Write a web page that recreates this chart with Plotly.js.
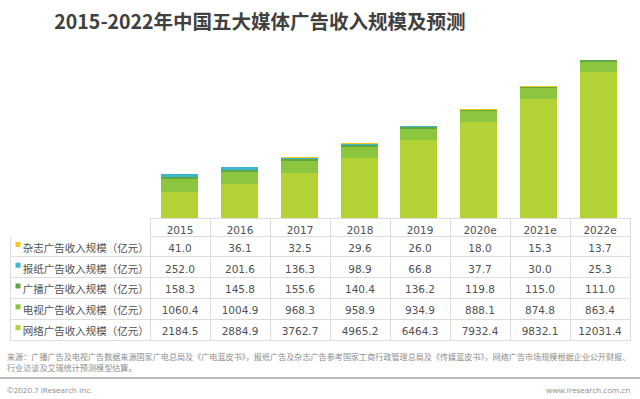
<!DOCTYPE html>
<html>
<head>
<meta charset="utf-8">
<script src="https://cdn.plot.ly/plotly-3.0.1.min.js"></script>
<style>html,body{margin:0;padding:0;background:#fff;}#chart{width:640px;height:399px;}</style>
</head>
<body>
<div id="chart"></div>
<script>
const years = ['2015','2016','2017','2018','2019','2020e','2021e','2022e'];
const magazine = [41.0,36.1,32.5,29.6,26.0,18.0,15.3,13.7];
const newspaper = [252.0,201.6,136.3,98.9,66.8,37.7,30.0,25.3];
const broadcast = [158.3,145.8,155.6,140.4,136.2,119.8,115.0,111.0];
const tv = [1060.4,1004.9,968.3,958.9,934.9,888.1,874.8,863.4];
const online = [2184.5,2884.9,3762.7,4965.2,6464.3,7932.4,9832.1,12031.4];
const seriesNames = ['杂志广告收入规模（亿元）','报纸广告收入规模（亿元）','广播广告收入规模（亿元）','电视广告收入规模（亿元）','网络广告收入规模（亿元）'];
const colors = ['#f5c518','#3bb8cc','#5fa845','#8cc63f','#b2d235'];
const title = '2015-2022年中国五大媒体广告收入规模及预测';
const sourceLine1 = '来源：广播广告及电视广告数据来源国家广电总局及《广电蓝皮书》，报纸广告及杂志广告参考国家工商行政管理总局及《传媒蓝皮书》，网络广告市场规模根据企业公开财报、';
const sourceLine2 = '行业访谈及艾瑞统计预测模型估算。';

const rows = [magazine, newspaper, broadcast, tv, online];
const stackOrder = [4,3,2,1,0];

const traces = stackOrder.map(i => ({
  type: 'bar', x: years, y: rows[i], name: seriesNames[i],
  marker: {color: colors[i], line: {width: 0}},
  hoverinfo: 'skip', xaxis: 'x', yaxis: 'y'
}));

const H = 399;
const tableTop = 218, headerH = 18, rowH = 20.8;
const labelCol = seriesNames.map(n => '\u00a0\u00a0' + n);
const cellValues = [labelCol].concat(years.map((y, j) => rows.map(r => r[j].toFixed(1))));
const lineGray = '#dcdcdc';
const textGray = '#505050';

traces.push({
  type: 'table',
  domain: {x: [10/640, 630/640], y: [0.13, 1 - tableTop/H]},
  columnwidth: [140].concat(years.map(() => 60)),
  header: {
    values: [''].concat(years),
    height: headerH,
    align: 'center',
    fill: {color: 'white'},
    line: {color: ['white'].concat(years.map(() => lineGray)), width: 1},
    font: {family: 'DejaVu Sans', size: 10.5, color: textGray}
  },
  cells: {
    values: cellValues,
    height: rowH,
    align: ['left'].concat(years.map(() => 'center')),
    fill: {color: 'white'},
    line: {color: lineGray, width: 1},
    font: {family: ['Noto Sans CJK SC'].concat(years.map(() => 'DejaVu Sans')), size: 10.5, color: textGray}
  }
});

const shapes = [
  {type: 'line', xref: 'paper', yref: 'paper', x0: 0, x1: 1, y0: 1 - 378/H, y1: 1 - 378/H, line: {color: '#a6a6a6', width: 1.5}}
];
colors.forEach((c, i) => {
  const cy = tableTop + headerH + rowH * (i + 0.5) - 2;
  shapes.push({type: 'rect', xref: 'paper', yref: 'paper', layer: 'above',
    x0: 15.5/640, x1: 20.5/640, y0: 1 - (cy + 2.5)/H, y1: 1 - (cy - 2.5)/H,
    fillcolor: c, line: {width: 0}});
});

const layout = {
  width: 640, height: 399,
  margin: {l: 0, r: 0, t: 0, b: 0},
  paper_bgcolor: 'white', plot_bgcolor: 'white',
  showlegend: false,
  barmode: 'stack',
  bargap: 0.38,
  xaxis: {domain: [150/640, 628/640], visible: false, type: 'category', fixedrange: true},
  yaxis: {domain: [1 - 219/H, 0.879], range: [0, 14000], visible: false, fixedrange: true},
  title: {
    text: '<b>' + title + '</b>',
    x: 260/640, xanchor: 'center', xref: 'paper',
    y: 1 - 22/H, yanchor: 'middle', yref: 'paper',
    font: {family: 'Noto Sans CJK SC', size: 19.5, color: '#404040'}
  },
  shapes: shapes,
  annotations: [
    {text: sourceLine1, xref: 'paper', yref: 'paper', x: 5/640, y: 1 - 356/H, xanchor: 'left', yanchor: 'middle', showarrow: false, font: {family: 'Noto Sans CJK SC', size: 8.1, color: '#8c8c8c'}},
    {text: sourceLine2, xref: 'paper', yref: 'paper', x: 5/640, y: 1 - 367/H, xanchor: 'left', yanchor: 'middle', showarrow: false, font: {family: 'Noto Sans CJK SC', size: 8.1, color: '#8c8c8c'}},
    {text: '©2020.7 iResearch Inc.', xref: 'paper', yref: 'paper', x: 5/640, y: 1 - 389/H, xanchor: 'left', yanchor: 'middle', showarrow: false, font: {family: 'Open Sans', size: 8, color: '#8c8c8c'}},
    {text: 'www.iresearch.com.cn', xref: 'paper', yref: 'paper', x: 632/640, y: 1 - 389/H, xanchor: 'right', yanchor: 'middle', showarrow: false, font: {family: 'Open Sans', size: 8, color: '#8c8c8c'}}
  ]
};

Plotly.newPlot('chart', traces, layout, {displayModeBar: false, staticPlot: true});
</script>
</body>
</html>
